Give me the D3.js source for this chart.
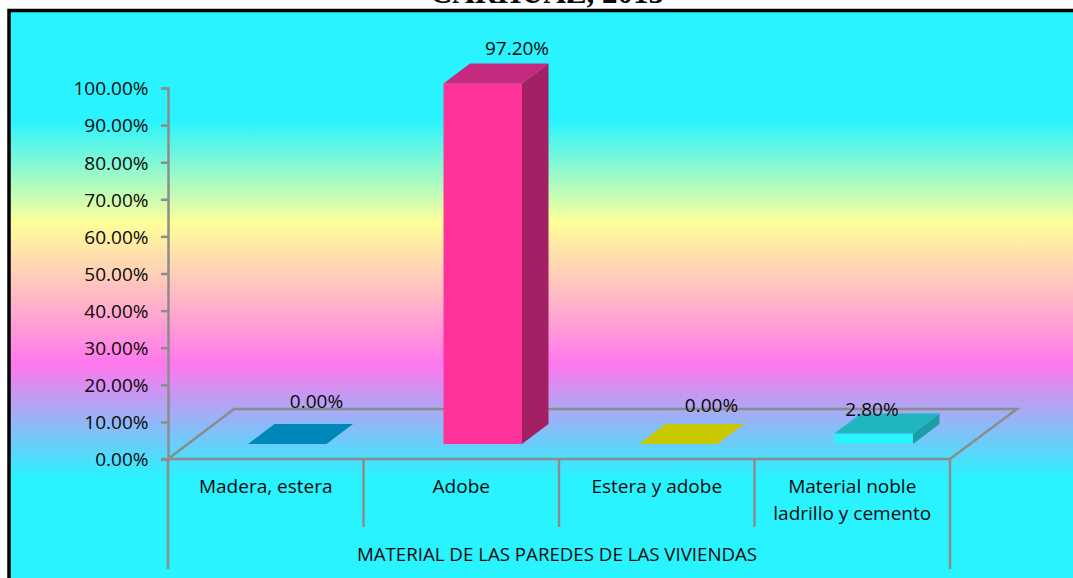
<!DOCTYPE html>
<html>
<head>
<meta charset="utf-8">
<script src="https://cdn.jsdelivr.net/npm/d3@7"></script>
<style>
html,body{margin:0;padding:0;background:#fff;overflow:hidden}
svg{display:block}
text{font-family:"Open Sans",sans-serif;fill:#0a0a0a}
</style>
</head>
<body>
<svg id="chart" width="1073" height="578"></svg>
<script>
const categories = ["Madera, estera", "Adobe", "Estera y adobe", "Material noble|ladrillo y cemento"];
const values = [0, 97.2, 0, 2.8];
const valueLabels = ["0.00%", "97.20%", "0.00%", "2.80%"];
const yTicks = [0, 10, 20, 30, 40, 50, 60, 70, 80, 90, 100];
const chartTitle = "CARHUAZ, 2013";
const axisTitle = "MATERIAL DE LAS PAREDES DE LAS VIVIENDAS";
const frontColors = ["#00A3DE", "#FF3399", "#F0F000", "#29F3FF"];
const topColors = ["#0087B9", "#C62A7E", "#C8C800", "#1FB6BF"];
const sideColors = ["#006E96", "#A32065", "#A3A300", "#1B9EA5"];

const svg = d3.select("#chart");
const line = "#8c8c8c";
const fontSize = "19px";
const defs = svg.append("defs");
const grad = defs.append("linearGradient").attr("id", "bg")
  .attr("gradientUnits", "userSpaceOnUse").attr("x1", 0).attr("x2", 0).attr("y1", 0).attr("y2", 578);
[[0, "#29F3FF"], [120, "#29F3FF"], [223, "#FFFF99"], [365, "#FF77EE"], [478, "#29F3FF"], [578, "#29F3FF"]]
  .forEach(([p, c]) => grad.append("stop").attr("offset", p / 578).attr("stop-color", c));

svg.append("rect").attr("x", 9).attr("y", 10.5).attr("width", 1070).attr("height", 580)
  .attr("fill", "url(#bg)").attr("stroke", "#000").attr("stroke-width", 3.5);

svg.append("text").attr("x", 547).attr("y", 3).attr("text-anchor", "middle")
  .style("font-family", "'Liberation Serif',serif").style("font-weight", "bold").style("font-size", "31px")
  .text(chartTitle);

const y = d3.scaleLinear().domain([0, 100]).range([459, 88]);
const x = d3.scaleBand().domain(categories).range([168, 950]);
const depthX = 66, depthY = 50;           // floor depth
const barDX = 26.5, barDY = 20;           // bar depth
const inset = 15;                         // bar base height above floor front edge
const barW = 78.5, barShift = 21.5;
const sw = 2.5;

// floor
svg.append("polyline").attr("fill", "none").attr("stroke", line).attr("stroke-width", sw)
  .attr("points", [[168, 459], [168 + depthX, 459 - depthY], [950 + depthX + 1, 459 - depthY], [950, 459]].join(" "));

// y axis
const axis = d3.axisLeft(y).tickValues(yTicks).tickSize(7).tickPadding(12.5)
  .tickFormat(d => d3.format(".2f")(d) + "%");
const gy = svg.append("g").attr("transform", "translate(168,0)").call(axis);
gy.selectAll("path,line").attr("stroke", line).attr("stroke-width", sw);
gy.selectAll("text").style("font-size", fontSize).style("font-family", "'Open Sans',sans-serif").attr("fill", "#0a0a0a").attr("dy", "0.36em");

// x axis line + separators
svg.append("line").attr("x1", 161).attr("x2", 950).attr("y1", 459).attr("y2", 459).attr("stroke", line).attr("stroke-width", sw);
const edges = categories.map(c => x(c)).concat(x.range()[1]);
svg.selectAll(".sep").data(edges).join("line").attr("class", "sep")
  .attr("x1", d => d).attr("x2", d => d).attr("y1", 459)
  .attr("y2", (d, i) => (i === 0 || i === edges.length - 1) ? 569 : 527)
  .attr("stroke", line).attr("stroke-width", sw);

// bars
const rows = categories.map((c, i) => ({c, v: values[i], i}));
const bars = svg.selectAll(".bar").data(rows).join("g").attr("class", "bar");
const left = d => x(d.c) + x.bandwidth() / 2 + barShift - barW / 2;
const base = 459 - inset;
const topY = d => y(d.v) - inset;
bars.filter(d => d.v > 0).append("rect")
  .attr("x", left).attr("y", topY).attr("width", barW).attr("height", d => base - topY(d))
  .attr("fill", d => frontColors[d.i]);
bars.filter(d => d.v > 0).append("polygon")
  .attr("points", d => {
    const l = left(d) + barW, t = topY(d);
    return [[l, t], [l + barDX, t - barDY], [l + barDX, base - barDY], [l, base]].join(" ");
  }).attr("fill", d => sideColors[d.i]);
bars.append("polygon")
  .attr("points", d => {
    const l = left(d), t = topY(d);
    return [[l, t], [l + barW, t], [l + barW + barDX, t - barDY], [l + barDX, t - barDY]].join(" ");
  }).attr("fill", d => topColors[d.i]);

// value labels (offset from each bar's top-back centre)
const labelDX = [16, 21, 20, -15], labelDY = [-16, -8, -12, 2];
svg.selectAll(".val").data(rows).join("text").attr("class", "val")
  .attr("x", d => left(d) + barW / 2 + barDX / 2 + labelDX[d.i])
  .attr("y", d => topY(d) - barDY + labelDY[d.i])
  .attr("text-anchor", "middle").style("font-size", fontSize)
  .text(d => valueLabels[d.i]);

// category labels
const cat = svg.selectAll(".cat").data(rows).join("text").attr("class", "cat")
  .attr("text-anchor", "middle").style("font-size", fontSize);
cat.selectAll("tspan").data(d => d.c.split("|").map(t => ({t, d}))).join("tspan")
  .attr("x", o => x(o.d.c) + x.bandwidth() / 2)
  .attr("y", (o, i) => 493 + i * 26.5)
  .text(o => o.t);

svg.append("text").attr("x", 557).attr("y", 561).attr("text-anchor", "middle")
  .style("font-size", "18.7px").text(axisTitle);
</script>
</body>
</html>
